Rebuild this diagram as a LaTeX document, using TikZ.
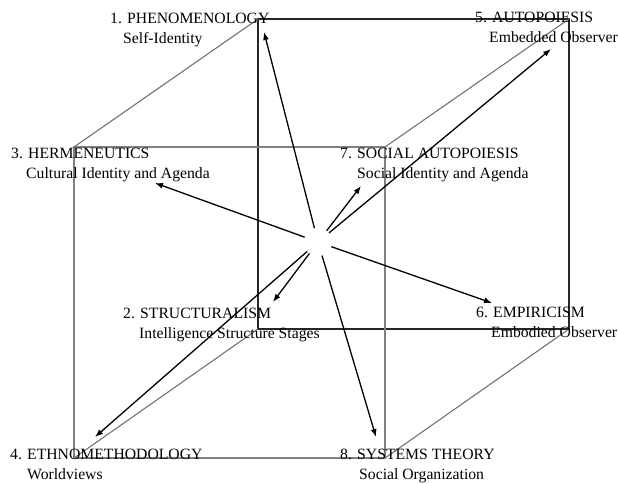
\documentclass[tikz,border=0pt]{standalone}
\usepackage{fontspec}
\setmainfont{Liberation Serif}
\usetikzlibrary{arrows.meta}

\begin{document}
\begin{tikzpicture}[x=1pt,y=-1pt]
  	\tikzstyle{front}=[draw=black!50, line width=2pt]
  	\tikzstyle{back}=[draw=black!85, line width=1.1pt]
  	\tikzstyle{edge}=[draw=black!55, line width=1.1pt]
  	\tikzstyle{connect}=[-{Latex[length=8pt,width=6pt]}, line width=1.3pt]
  	\tikzstyle{school}=[anchor=base west, inner sep=0pt, align=left, font=\fontsize{15.7}{20}\selectfont]
  	\useasboundingbox (0,0) rectangle (618,483);
  	% cube corners
  	\coordinate (fTL) at (74,147);
  	\coordinate (fTR) at (385,147);
  	\coordinate (fBL) at (74,458);
  	\coordinate (fBR) at (385,458);
  	\coordinate (bTL) at (258,19);
  	\coordinate (bTR) at (569,19);
  	\coordinate (bBL) at (258,329);
  	\coordinate (bBR) at (569,329);
  	\draw[back] (bTL) rectangle (bBR);
  	\draw[edge] (fTL) -- (bTL) (fTR) -- (bTR) (fBL) -- (bBL) (fBR) -- (bBR);
  	\draw[front] (fTL) rectangle (fBR);
  	
  	% the anchor is the baseline of the second line
  	\node[school] (phen) at (110,43) {1. PHENOMENOLOGY\\\hspace*{13pt}Self-Identity};
  	\node[school] (herm) at (11,178) {3. HERMENEUTICS\\\hspace*{15pt}Cultural Identity and Agenda};
  	\node[school] (auto) at (475,42) {5. AUTOPOIESIS\\\hspace*{14pt}Embedded Observer};
  	\node[school] (saut) at (340,178) {7. SOCIAL AUTOPOIESIS\\\hspace*{17pt}Social Identity and Agenda};
  	\node[school] (stru) at (123,338) {2. STRUCTURALISM\\\hspace*{16pt}Intelligence Structure Stages};
  	\node[school] (empi) at (476,337) {6. EMPIRICISM\\\hspace*{15pt}Embodied Observer};
  	\node[school] (ethn) at (10,479) {4. ETHNOMETHODOLOGY\\\hspace*{17pt}Worldviews};
  	\node[school] (syst) at (340,479) {8. SYSTEMS THEORY\\\hspace*{19pt}Social Organization};
  	
  	\node[circle, minimum size=28pt, inner sep=0pt] (hub) at (318,242) {};
  	% arrow tips
  	\coordinate (tphen) at (264,32);
  	\coordinate (therm) at (155,183);
  	\coordinate (tauto) at (551,49);
  	\coordinate (tsaut) at (361,186);
  	\coordinate (tstru) at (273,302);
  	\coordinate (tempi) at (492,303);
  	\coordinate (tethn) at (95,437);
  	\coordinate (tsyst) at (376,437);
  	
  	\path (hub) edge [connect] (tphen)
  	(hub) edge [connect] (therm)
  	(hub) edge [connect] (tauto)
  	(hub) edge [connect] (tsaut)
  	(hub) edge [connect] (tstru)
  	(hub) edge [connect] (tempi)
  	(hub) edge [connect] (tethn)
  	(hub) edge [connect] (tsyst);
\end{tikzpicture}
\end{document}
